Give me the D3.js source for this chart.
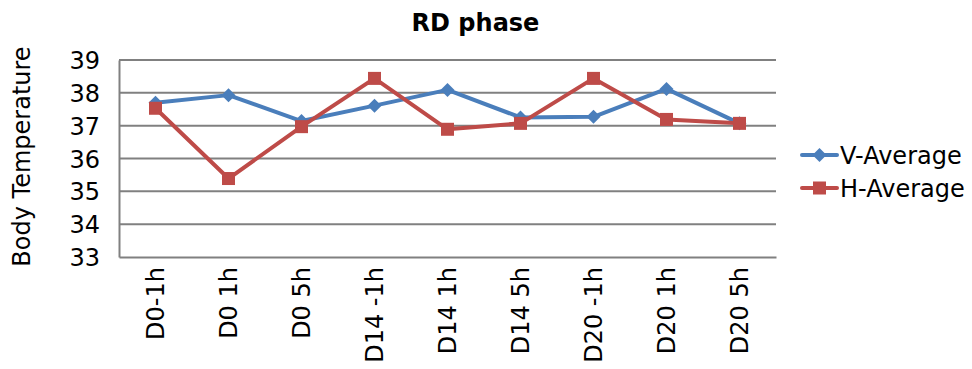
<!DOCTYPE html>
<html>
<head>
<meta charset="utf-8">
<script src="https://cdn.jsdelivr.net/npm/d3@7"></script>
<style>
  body { margin: 0; background: #fff; }
  text { font-family: "DejaVu Sans", Verdana, sans-serif; fill: #000; }
</style>
</head>
<body>
<svg id="chart" width="972" height="369"></svg>
<script>
// Data
const categories = ['D0-1h', 'D0 1h', 'D0 5h', 'D14 -1h', 'D14 1h', 'D14 5h', 'D20 -1h', 'D20 1h', 'D20 5h']
const vAverage = [37.70, 37.93, 37.14, 37.61, 38.09, 37.25, 37.27, 38.12, 37.07]
const hAverage = [37.53, 35.39, 36.97, 38.44, 36.89, 37.07, 38.44, 37.19, 37.07]
const yTicks = [33, 34, 35, 36, 37, 38, 39]

const series = [
    { name: 'V-Average', values: vAverage, color: '#4A7EBB', marker: 'diamond' },
    { name: 'H-Average', values: hAverage, color: '#BE4B48', marker: 'square' }
]

let svg = d3.select('#chart'),
    plotLeft = 119,
    plotRight = 776,
    plotTop = 60,
    plotBottom = 257,
    fontSize = '24px'

let xScale = d3.scaleBand().domain(categories).range([plotLeft, plotRight]),
    yScale = d3.scaleLinear().domain([33, 39]).range([plotBottom, plotTop])

// Gridlines
svg.append('g')
    .selectAll('line')
    .data(yTicks.slice(1))
    .enter()
    .append('line')
    .attr('x1', plotLeft)
    .attr('x2', plotRight)
    .attr('y1', d => yScale(d))
    .attr('y2', d => yScale(d))
    .attr('stroke', '#808080')
    .attr('stroke-width', 2)

// Axes
let yAxis = svg.append('g')
    .attr('transform', `translate(${plotLeft},0)`)
    .call(d3.axisLeft(yScale).tickValues(yTicks).tickSize(0).tickPadding(19).tickFormat(d3.format('d')))
yAxis.select('.domain').attr('stroke', '#808080').attr('stroke-width', 2)
yAxis.selectAll('text').style('font-size', fontSize).attr('font-family', null).attr('dy', '0.36em')

let xAxis = svg.append('g')
    .attr('transform', `translate(0,${plotBottom})`)
    .call(d3.axisBottom(xScale).tickSize(0).tickSizeOuter(0))
xAxis.select('.domain').attr('stroke', '#808080').attr('stroke-width', 2)
xAxis.selectAll('text')
    .style('font-size', fontSize)
    .attr('font-family', null)
    .attr('transform', 'rotate(-90)')
    .attr('x', -10)
    .attr('y', 0)
    .attr('dy', '0.36em')
    .style('text-anchor', 'end')

// Title and axis label
svg.append('text')
    .attr('x', (plotLeft + plotRight) / 2 + 28)
    .attr('y', 31)
    .attr('text-anchor', 'middle')
    .style('font-size', fontSize)
    .style('font-weight', 'bold')
    .text('RD phase')

svg.append('text')
    .attr('transform', `translate(30,${(plotTop + plotBottom) / 2 - 2}) rotate(-90)`)
    .attr('text-anchor', 'middle')
    .style('font-size', fontSize)
    .text('Body Temperature')

// Lines and markers
let line = d3.line()
    .x((d, i) => xScale(categories[i]) + xScale.bandwidth() / 2)
    .y(d => yScale(d))

function drawMarker(g, type, color) {
    if (type === 'diamond') {
        g.append('path').attr('d', 'M0,-7L7,0L0,7L-7,0Z').attr('fill', color)
    } else {
        g.append('rect').attr('x', -6.5).attr('y', -6.5).attr('width', 13).attr('height', 13).attr('fill', color)
    }
}

series.forEach(s => {
    svg.append('path')
        .datum(s.values)
        .attr('d', line)
        .attr('fill', 'none')
        .attr('stroke', s.color)
        .attr('stroke-width', 4)
        .attr('stroke-linejoin', 'round')

    s.values.forEach((v, i) => {
        let g = svg.append('g')
            .attr('transform', `translate(${xScale(categories[i]) + xScale.bandwidth() / 2},${yScale(v)})`)
        drawMarker(g, s.marker, s.color)
    })
})

// Legend
series.forEach((s, i) => {
    let ly = 155 + i * 33
    let g = svg.append('g').attr('transform', `translate(802,${ly})`)
    g.append('line')
        .attr('x1', 0).attr('x2', 35)
        .attr('stroke', s.color).attr('stroke-width', 4).attr('stroke-linecap', 'round')
    drawMarker(g.append('g').attr('transform', 'translate(17.5,0)'), s.marker, s.color)
    g.append('text')
        .attr('x', 38)
        .attr('dy', '0.36em')
        .style('font-size', fontSize)
        .text(s.name)
})
</script>
</body>
</html>
